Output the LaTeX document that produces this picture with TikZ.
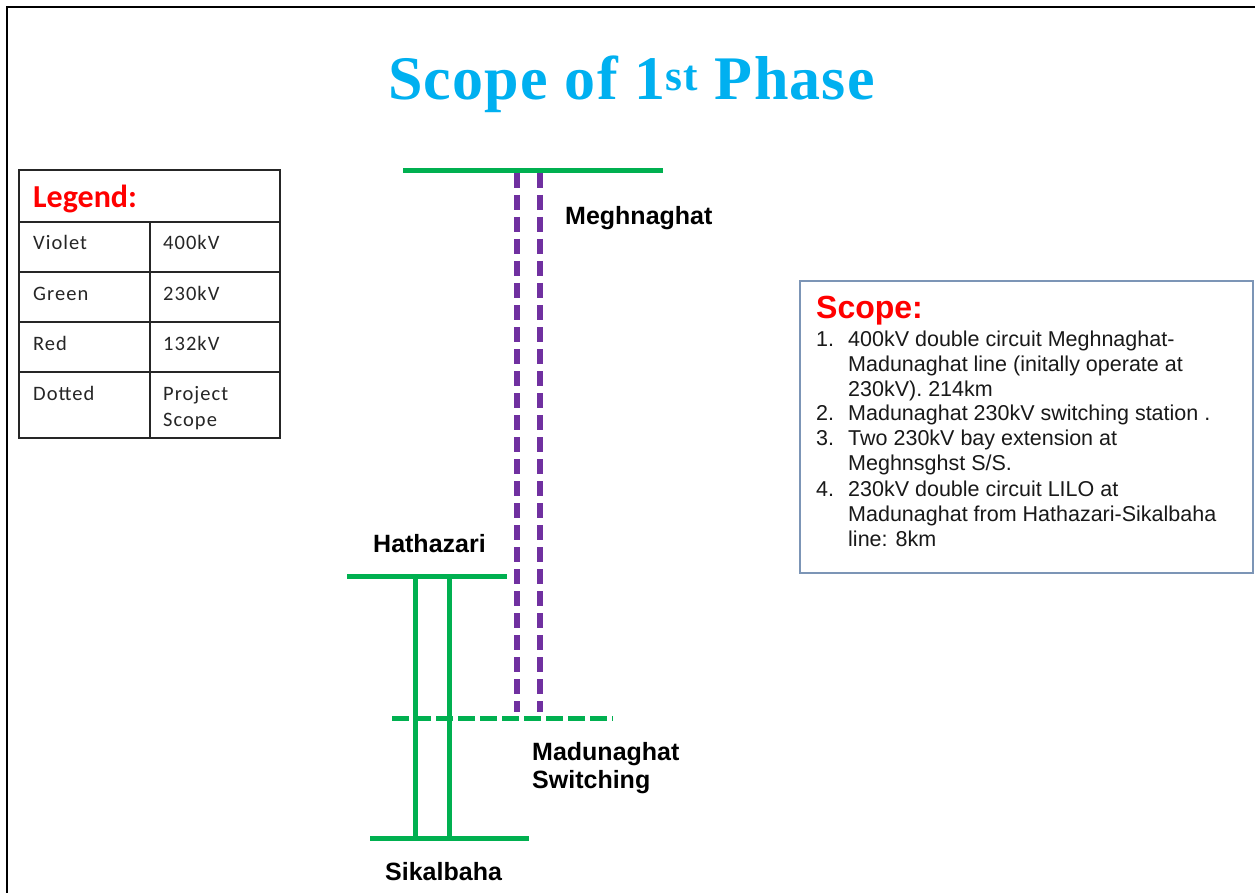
\documentclass[tikz,border=0pt]{standalone}
\usepackage{fontspec}
\setmainfont{Liberation Sans}
\newfontfamily\titlefont[LetterSpace=2]{Liberation Serif}
\newfontfamily\calibrifont{Carlito}
\newfontfamily\cellfont[LetterSpace=5]{Carlito}
\definecolor{busgreen}{RGB}{0,176,80}
\definecolor{lineviolet}{RGB}{112,48,160}
\definecolor{titlecyan}{RGB}{0,176,240}
\definecolor{boxblue}{RGB}{124,149,182}
\definecolor{legendred}{RGB}{255,0,0}
\begin{document}
\begin{tikzpicture}[x=1pt,y=-1pt,
    bus/.style ={busgreen, line width=5pt},
    switchbus/.style ={busgreen, line width=5pt, dash pattern=on 17pt off 5pt},
    scopeline/.style ={lineviolet, line width=5.5pt, dash pattern=on 15pt off 7pt},
    station/.style ={font=\fontsize{25}{28}\selectfont\bfseries, inner sep=0pt, anchor=base west, align=left},
    cell/.style ={font=\cellfont\fontsize{20.5}{26}\selectfont, text=black!85, inner sep=0pt, anchor=base west, align=left},
    item/.style ={font=\fontsize{21.5}{25}\selectfont, text=black!90, inner sep=0pt, anchor=base west, align=left}]
   \useasboundingbox (0,0) rectangle (1255,893);
   \fill[white] (0,0) rectangle (1255,893);
   \draw[line width=1.5pt] (7,893) -- (7,7) -- (1255,7);
   \node[font=\titlefont\bfseries\fontsize{62}{62}\selectfont, text=titlecyan, inner sep=0pt, anchor=base west] (title) at (388,100) {Scope of 1\textsuperscript{st} Phase};
   % legend
   \draw[line width=1.5pt, black!85] (19,170) rectangle (280,438);
   \foreach \y in {222,272,322,372} \draw[line width=1.5pt, black!85] (19,\y) -- (280,\y);
   \draw[line width=1.5pt, black!85] (150,222) -- (150,438);
   \node[font=\calibrifont\bfseries\fontsize{32}{32}\selectfont, text=legendred, inner sep=0pt, anchor=base west] (legend) at (33,208) {Legend:};
   \node[cell] (violet) at (33,250) {Violet};
   \node[cell] (green) at (33,300) {Green};
   \node[cell] (red) at (33,350) {Red};
   \node[cell] (dotted) at (33,400) {Dotted};
   \node[cell] (kv400) at (163,250) {400kV};
   \node[cell] (kv230) at (163,300) {230kV};
   \node[cell] (kv132) at (163,350) {132kV};
   \node[cell] (project) at (163,426) {Project\\Scope};
   % scope box
   \draw[line width=2.5pt, boxblue] (800,281) rectangle (1253,573);
   \node[font=\bfseries\fontsize{32}{32}\selectfont, text=legendred, inner sep=0pt, anchor=base west] (scope) at (816,318) {Scope:};
   \node[item] (n1) at (816,346) {1.};
   \node[item] (n2) at (816,420) {2.};
   \node[item] (n3) at (816,445) {3.};
   \node[item] (n4) at (816,496) {4.};
   \node[item] (s1) at (848,396) {400kV double circuit Meghnaghat-\\Madunaghat line (initally operate at\\230kV). 214km};
   \node[item] (s2) at (848,420) {Madunaghat 230kV switching station .};
   \node[item] (s3) at (848,470) {Two 230kV bay extension at\\Meghnsghst S/S.};
   \node[item] (s4) at (848,546) {230kV double circuit LILO at\\Madunaghat from Hathazari-Sikalbaha\\line: 8km};
   % single line diagram
   \coordinate (megL) at (403,171);
   \coordinate (megR) at (663,171);
   \coordinate (meg1) at (517,173);
   \coordinate (meg2) at (540,173);
   \coordinate (hatL) at (347,576);
   \coordinate (hatR) at (507,576);
   \coordinate (hat1) at (415,576);
   \coordinate (hat2) at (449,576);
   \coordinate (madL) at (392,718);
   \coordinate (madR) at (613,718);
   \coordinate (mad1) at (517,712);
   \coordinate (mad2) at (540,712);
   \coordinate (sikL) at (370,838);
   \coordinate (sikR) at (529,838);
   \coordinate (sik1) at (415,838);
   \coordinate (sik2) at (449,838);
   \draw[bus] (megL) -- (megR);
   \draw[bus] (hatL) -- (hatR);
   \draw[bus] (sikL) -- (sikR);
   \draw[switchbus] (madL) -- (madR);
   \draw[bus] (hat1) -- (sik1);
   \draw[bus] (hat2) -- (sik2);
   \draw[scopeline] (meg1) -- (mad1);
   \draw[scopeline] (meg2) -- (mad2);
   \node[station] (meghnaghat) at (565,225) {Meghnaghat};
   \node[station] (hathazari) at (373,552) {Hathazari};
   \node[station] (madunaghat) at (532,788) {Madunaghat\\Switching};
   \node[station] (sikalbaha) at (385,880) {Sikalbaha};
\end{tikzpicture}
\end{document}
